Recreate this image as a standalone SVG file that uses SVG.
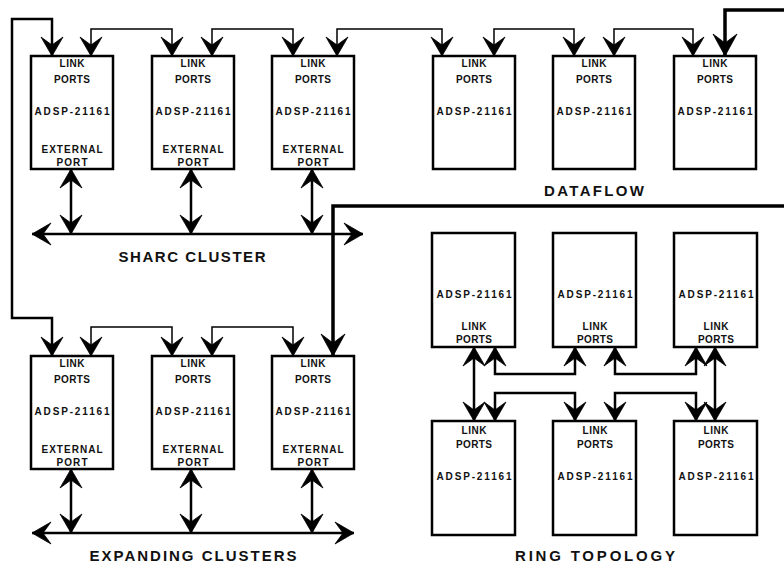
<svg xmlns="http://www.w3.org/2000/svg" xmlns:xlink="http://www.w3.org/1999/xlink" width="784" height="565" viewBox="0 0 784 565">
<style>
.box{fill:#fff;stroke:#000;stroke-width:2.5}
.t{font-family:"Liberation Sans",Arial,sans-serif;font-weight:bold;font-size:10px;text-anchor:middle;fill:#111}
.lbl{font-family:"Liberation Sans",Arial,sans-serif;font-weight:bold;font-size:15px;text-anchor:middle;fill:#111}
.c{fill:none;stroke:#000;stroke-linecap:butt;stroke-linejoin:miter}
.thin{stroke-width:1.5}
.mid{stroke-width:2.5}
.thick{stroke-width:3.5}
</style>
<defs>
<polygon id="ah" points="0,0 -11,-19 0,-11 11,-19" fill="#000" stroke="#000" stroke-width="0.8" stroke-linejoin="miter"/>
<polygon id="ahb" points="0,0 -12,-22 0,-13 12,-22" fill="#000" stroke="#000" stroke-width="0.8"/>
</defs>
<rect width="784" height="565" fill="#fff"/>

<g id="connectors">
  <path class="c thin" d="M91,56 V29 H172 V56"/>
  <path class="c thin" d="M212,56 V29 H293 V56"/>
  <path class="c thin" d="M337,56 V29 H442 V56"/>
  <path class="c thin" d="M494,56 V29 H574 V56"/>
  <path class="c thin" d="M614,56 V29 H693 V56"/>
  <path class="c thin" d="M91,356 V327 H172 V356"/>
  <path class="c thin" d="M212,356 V327 H293 V356"/>
  <path class="c mid" d="M52,56 V19 H12 V318 H52 V356"/>
  <path class="c thick" d="M784,10 H725 V56"/>
  <path class="c thick" d="M784,206 H333 V356"/>
  <path class="c mid" d="M71,169 V234 M191,169 V234 M312,169 V234"/>
  <path class="c mid" d="M32,234 H363"/>
  <path class="c mid" d="M71,469 V533 M191,469 V533 M312,469 V533"/>
  <path class="c mid" d="M32,533 H354"/>
  <path class="c mid" d="M474,347 V421 M715,347 V421"/>
  <path class="c mid" d="M495,347 V374 H575 V347"/>
  <path class="c mid" d="M615,347 V374 H696 V347"/>
  <path class="c mid" d="M495,421 V393 H575 V421"/>
  <path class="c mid" d="M615,421 V393 H696 V421"/>
  <use href="#ah" transform="translate(52,56)"/>
  <use href="#ah" transform="translate(91,56)"/>
  <use href="#ah" transform="translate(172,56)"/>
  <use href="#ah" transform="translate(212,56)"/>
  <use href="#ah" transform="translate(293,56)"/>
  <use href="#ah" transform="translate(337,56)"/>
  <use href="#ah" transform="translate(442,56)"/>
  <use href="#ah" transform="translate(494,56)"/>
  <use href="#ah" transform="translate(574,56)"/>
  <use href="#ah" transform="translate(614,56)"/>
  <use href="#ah" transform="translate(693,56)"/>
  <use href="#ahb" transform="translate(725,56)"/>
  <use href="#ah" transform="translate(52,356)"/>
  <use href="#ah" transform="translate(91,356)"/>
  <use href="#ah" transform="translate(172,356)"/>
  <use href="#ah" transform="translate(212,356)"/>
  <use href="#ah" transform="translate(293,356)"/>
  <use href="#ahb" transform="translate(333,356)"/>
  <use href="#ah" transform="translate(71,169) rotate(180)"/>
  <use href="#ah" transform="translate(191,169) rotate(180)"/>
  <use href="#ah" transform="translate(312,169) rotate(180)"/>
  <use href="#ah" transform="translate(71,234)"/>
  <use href="#ah" transform="translate(191,234)"/>
  <use href="#ah" transform="translate(312,234)"/>
  <use href="#ah" transform="translate(32,234) rotate(90)"/>
  <use href="#ah" transform="translate(363,234) rotate(-90)"/>
  <use href="#ah" transform="translate(71,469) rotate(180)"/>
  <use href="#ah" transform="translate(191,469) rotate(180)"/>
  <use href="#ah" transform="translate(312,469) rotate(180)"/>
  <use href="#ah" transform="translate(71,533)"/>
  <use href="#ah" transform="translate(191,533)"/>
  <use href="#ah" transform="translate(312,533)"/>
  <use href="#ah" transform="translate(32,533) rotate(90)"/>
  <use href="#ah" transform="translate(354,533) rotate(-90)"/>
  <use href="#ah" transform="translate(474,347) rotate(180)"/>
  <use href="#ah" transform="translate(495,347) rotate(180)"/>
  <use href="#ah" transform="translate(575,347) rotate(180)"/>
  <use href="#ah" transform="translate(615,347) rotate(180)"/>
  <use href="#ah" transform="translate(696,347) rotate(180)"/>
  <use href="#ah" transform="translate(715,347) rotate(180)"/>
  <use href="#ah" transform="translate(474,421)"/>
  <use href="#ah" transform="translate(495,421)"/>
  <use href="#ah" transform="translate(575,421)"/>
  <use href="#ah" transform="translate(615,421)"/>
  <use href="#ah" transform="translate(696,421)"/>
  <use href="#ah" transform="translate(715,421)"/>
</g>

<g id="sharc1">
  <rect class="box" x="31" y="56" width="82" height="113"/>
  <text class="t" x="72" y="67" textLength="25" lengthAdjust="spacing">LINK</text>
  <text class="t" x="72" y="83" textLength="36" lengthAdjust="spacing">PORTS</text>
  <text class="t" x="72" y="115" textLength="75" lengthAdjust="spacing">ADSP-21161</text>
  <text class="t" x="72" y="153" textLength="61" lengthAdjust="spacing">EXTERNAL</text>
  <text class="t" x="72" y="166" textLength="31" lengthAdjust="spacing">PORT</text>
</g>
<g id="sharc2">
  <rect class="box" x="152" y="56" width="82" height="113"/>
  <text class="t" x="193" y="67" textLength="25" lengthAdjust="spacing">LINK</text>
  <text class="t" x="193" y="83" textLength="36" lengthAdjust="spacing">PORTS</text>
  <text class="t" x="193" y="115" textLength="75" lengthAdjust="spacing">ADSP-21161</text>
  <text class="t" x="193" y="153" textLength="61" lengthAdjust="spacing">EXTERNAL</text>
  <text class="t" x="193" y="166" textLength="31" lengthAdjust="spacing">PORT</text>
</g>
<g id="sharc3">
  <rect class="box" x="272" y="56" width="82" height="113"/>
  <text class="t" x="313" y="67" textLength="25" lengthAdjust="spacing">LINK</text>
  <text class="t" x="313" y="83" textLength="36" lengthAdjust="spacing">PORTS</text>
  <text class="t" x="313" y="115" textLength="75" lengthAdjust="spacing">ADSP-21161</text>
  <text class="t" x="313" y="153" textLength="61" lengthAdjust="spacing">EXTERNAL</text>
  <text class="t" x="313" y="166" textLength="31" lengthAdjust="spacing">PORT</text>
</g>
<g id="flow1">
  <rect class="box" x="433" y="56" width="82" height="113"/>
  <text class="t" x="474" y="67" textLength="25" lengthAdjust="spacing">LINK</text>
  <text class="t" x="474" y="83" textLength="36" lengthAdjust="spacing">PORTS</text>
  <text class="t" x="474" y="115" textLength="75" lengthAdjust="spacing">ADSP-21161</text>
</g>
<g id="flow2">
  <rect class="box" x="553" y="56" width="82" height="113"/>
  <text class="t" x="594" y="67" textLength="25" lengthAdjust="spacing">LINK</text>
  <text class="t" x="594" y="83" textLength="36" lengthAdjust="spacing">PORTS</text>
  <text class="t" x="594" y="115" textLength="75" lengthAdjust="spacing">ADSP-21161</text>
</g>
<g id="flow3">
  <rect class="box" x="674" y="56" width="82" height="113"/>
  <text class="t" x="715" y="67" textLength="25" lengthAdjust="spacing">LINK</text>
  <text class="t" x="715" y="83" textLength="36" lengthAdjust="spacing">PORTS</text>
  <text class="t" x="715" y="115" textLength="75" lengthAdjust="spacing">ADSP-21161</text>
</g>
<g id="exp1">
  <rect class="box" x="31" y="356" width="82" height="113"/>
  <text class="t" x="72" y="367" textLength="25" lengthAdjust="spacing">LINK</text>
  <text class="t" x="72" y="383" textLength="36" lengthAdjust="spacing">PORTS</text>
  <text class="t" x="72" y="415" textLength="75" lengthAdjust="spacing">ADSP-21161</text>
  <text class="t" x="72" y="453" textLength="61" lengthAdjust="spacing">EXTERNAL</text>
  <text class="t" x="72" y="466" textLength="31" lengthAdjust="spacing">PORT</text>
</g>
<g id="exp2">
  <rect class="box" x="152" y="356" width="82" height="113"/>
  <text class="t" x="193" y="367" textLength="25" lengthAdjust="spacing">LINK</text>
  <text class="t" x="193" y="383" textLength="36" lengthAdjust="spacing">PORTS</text>
  <text class="t" x="193" y="415" textLength="75" lengthAdjust="spacing">ADSP-21161</text>
  <text class="t" x="193" y="453" textLength="61" lengthAdjust="spacing">EXTERNAL</text>
  <text class="t" x="193" y="466" textLength="31" lengthAdjust="spacing">PORT</text>
</g>
<g id="exp3">
  <rect class="box" x="272" y="356" width="82" height="113"/>
  <text class="t" x="313" y="367" textLength="25" lengthAdjust="spacing">LINK</text>
  <text class="t" x="313" y="383" textLength="36" lengthAdjust="spacing">PORTS</text>
  <text class="t" x="313" y="415" textLength="75" lengthAdjust="spacing">ADSP-21161</text>
  <text class="t" x="313" y="453" textLength="61" lengthAdjust="spacing">EXTERNAL</text>
  <text class="t" x="313" y="466" textLength="31" lengthAdjust="spacing">PORT</text>
</g>
<g id="ring1">
  <rect class="box" x="432" y="233" width="83" height="114"/>
  <text class="t" x="474" y="298" textLength="75" lengthAdjust="spacing">ADSP-21161</text>
  <text class="t" x="474" y="330" textLength="25" lengthAdjust="spacing">LINK</text>
  <text class="t" x="474" y="343" textLength="36" lengthAdjust="spacing">PORTS</text>
</g>
<g id="ring2">
  <rect class="box" x="553" y="233" width="83" height="114"/>
  <text class="t" x="595" y="298" textLength="75" lengthAdjust="spacing">ADSP-21161</text>
  <text class="t" x="595" y="330" textLength="25" lengthAdjust="spacing">LINK</text>
  <text class="t" x="595" y="343" textLength="36" lengthAdjust="spacing">PORTS</text>
</g>
<g id="ring3">
  <rect class="box" x="674" y="233" width="83" height="114"/>
  <text class="t" x="716" y="298" textLength="75" lengthAdjust="spacing">ADSP-21161</text>
  <text class="t" x="716" y="330" textLength="25" lengthAdjust="spacing">LINK</text>
  <text class="t" x="716" y="343" textLength="36" lengthAdjust="spacing">PORTS</text>
</g>
<g id="ring4">
  <rect class="box" x="432" y="421" width="83" height="114"/>
  <text class="t" x="474" y="434" textLength="25" lengthAdjust="spacing">LINK</text>
  <text class="t" x="474" y="448" textLength="36" lengthAdjust="spacing">PORTS</text>
  <text class="t" x="474" y="480" textLength="75" lengthAdjust="spacing">ADSP-21161</text>
</g>
<g id="ring5">
  <rect class="box" x="553" y="421" width="83" height="114"/>
  <text class="t" x="595" y="434" textLength="25" lengthAdjust="spacing">LINK</text>
  <text class="t" x="595" y="448" textLength="36" lengthAdjust="spacing">PORTS</text>
  <text class="t" x="595" y="480" textLength="75" lengthAdjust="spacing">ADSP-21161</text>
</g>
<g id="ring6">
  <rect class="box" x="674" y="421" width="83" height="114"/>
  <text class="t" x="716" y="434" textLength="25" lengthAdjust="spacing">LINK</text>
  <text class="t" x="716" y="448" textLength="36" lengthAdjust="spacing">PORTS</text>
  <text class="t" x="716" y="480" textLength="75" lengthAdjust="spacing">ADSP-21161</text>
</g>

<g id="labels">
  <text class="lbl" x="192" y="262" textLength="147" lengthAdjust="spacing">SHARC CLUSTER</text>
  <text class="lbl" x="594" y="196" textLength="100" lengthAdjust="spacing">DATAFLOW</text>
  <text class="lbl" x="193" y="561" textLength="207" lengthAdjust="spacing">EXPANDING CLUSTERS</text>
  <text class="lbl" x="595" y="561" textLength="160" lengthAdjust="spacing">RING TOPOLOGY</text>
</g>
</svg>
